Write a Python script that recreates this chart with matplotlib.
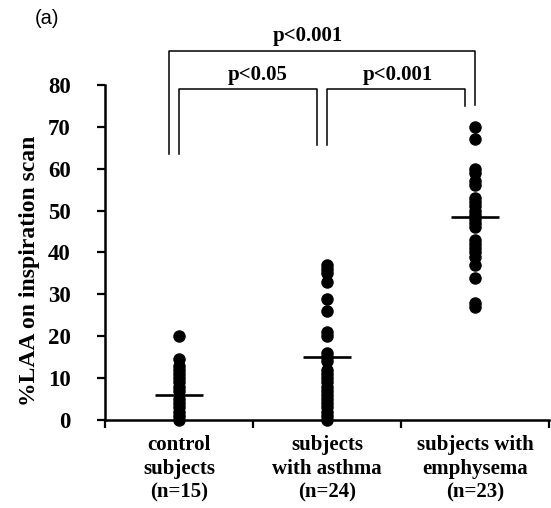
import matplotlib
matplotlib.use("Agg")
import matplotlib.pyplot as plt

# ---- data ----
categories = ["control\nsubjects\n(n=15)",
              "subjects\nwith asthma\n(n=24)",
              "subjects with\nemphysema\n(n=23)"]
control = [20, 14.5, 13, 12, 11, 10, 9, 8, 7, 5, 4, 3, 2, 1, 0]
asthma = [37, 36, 35, 33, 29, 26, 21, 20, 16, 15, 14, 12, 11, 10, 9, 8,
          7, 6, 5, 4, 3, 2, 1, 0]
emphysema = [70, 67, 60, 59, 57, 56, 53, 52, 51, 50, 49, 48, 47, 46, 43,
             42, 41, 40, 39, 37, 34, 28, 27]
center_lines = [6, 15, 48.5]
p_labels = ["p<0.05", "p<0.001", "p<0.001"]
y_ticks = [0, 10, 20, 30, 40, 50, 60, 70, 80]

groups = [control, asthma, emphysema]

serif = "Liberation Serif"

fig = plt.figure(figsize=(5.51, 5.08), dpi=100)
ax = fig.add_axes([105 / 551, 88 / 508, 444 / 551, 335 / 508])

for i, vals in enumerate(groups):
    xs = [i + 0.5] * len(vals)
    ax.plot(xs, vals, "o", color="black", markersize=9, markeredgewidth=0,
            clip_on=False, zorder=3)
    ax.hlines(center_lines[i], i + 0.5 - 0.16, i + 0.5 + 0.16,
              color="black", linewidth=1.9, zorder=4)

ax.set_xlim(0, 3)
ax.set_ylim(0, 80)
ax.set_yticks(y_ticks)
ax.set_yticklabels([str(t) for t in y_ticks], fontfamily=serif,
                   fontweight="bold", fontsize=16.5)
ax.set_xticks([0, 1, 2, 3])
ax.set_xticklabels([])
ax.set_xticks([0.5, 1.5, 2.5], minor=True)
ax.set_xticklabels(categories, minor=True, fontfamily=serif,
                   fontweight="bold", fontsize=15, linespacing=1.25)
ax.tick_params(axis="x", which="minor", length=0, pad=11)
ax.tick_params(axis="x", which="major", direction="out", length=5.5, width=1.6)
ax.tick_params(axis="y", direction="out", length=5.5, width=1.6, pad=19)

for s in ["top", "right"]:
    ax.spines[s].set_visible(False)
for s in ["left", "bottom"]:
    ax.spines[s].set_linewidth(1.8)

ax.set_ylabel("%LAA on inspiration scan", fontfamily=serif,
              fontweight="bold", fontsize=17)
ax.yaxis.set_label_coords(-0.147, 0.445)

# significance brackets
bk = dict(color="black", linewidth=1.1, clip_on=False)
# control vs asthma
ax.plot([0.50, 0.50, 1.43, 1.43], [63.5, 79.0, 79.0, 65.7], **bk)
# asthma vs emphysema
ax.plot([1.50, 1.50, 2.43, 2.43], [65.7, 79.0, 79.0, 75.0], **bk)
# control vs emphysema
ax.plot([0.43, 0.43, 2.50, 2.50], [63.5, 88.1, 88.1, 75.2], **bk)

tk = dict(fontfamily=serif, fontweight="bold", fontsize=15,
          ha="center", va="center", clip_on=False)
ax.text(1.03, 82.4, p_labels[0], **tk)
ax.text(1.98, 82.4, p_labels[1], **tk)
ax.text(1.37, 91.6, p_labels[2], **tk)

fig.text(47 / 551, 1 - 18 / 508, "(a)", fontfamily="Liberation Sans",
         fontsize=14.5, ha="center", va="center")

fig.savefig("out.png", dpi=100)
